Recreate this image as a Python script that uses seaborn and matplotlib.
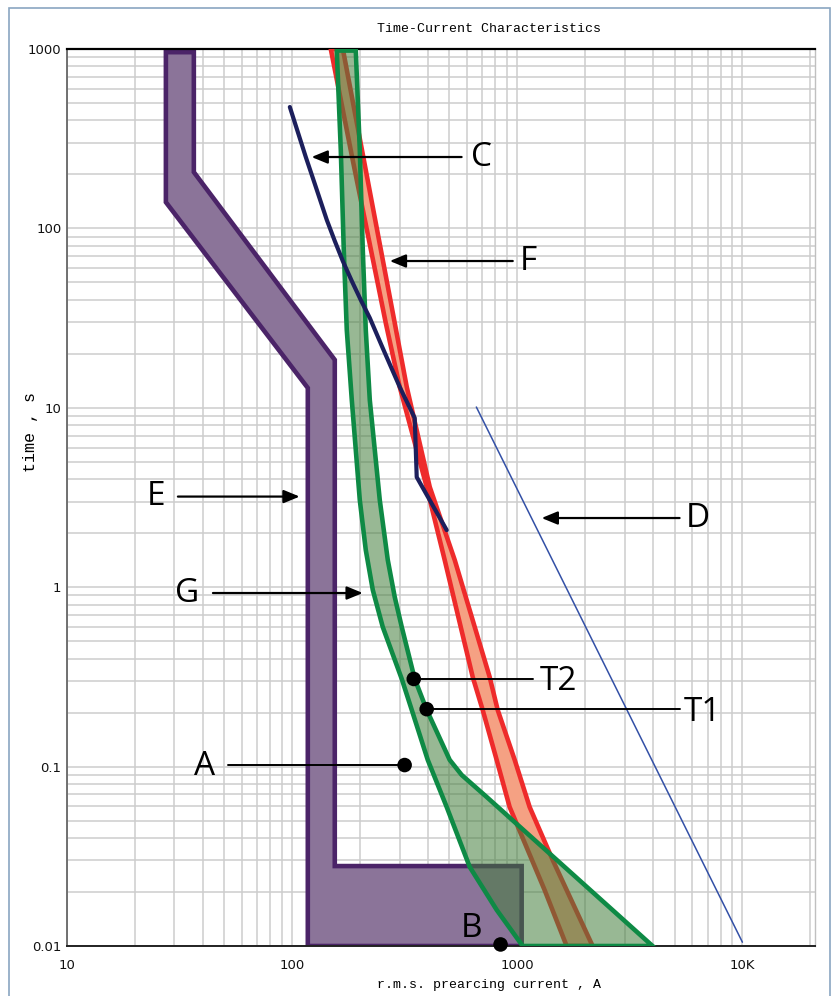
import matplotlib
matplotlib.use("Agg")
import matplotlib.pyplot as plt
import seaborn as sns
from matplotlib.patches import Rectangle
from matplotlib.ticker import LogLocator, NullFormatter, FixedLocator, FixedFormatter
from matplotlib.colors import to_rgba

# === data (current in A, time in s) ===
# E : purple band
e_current = [27.5, 36.6, 36.6, 154.7, 154.7, 1046, 1046, 117.4, 117.4, 27.5]
e_time = [960, 960, 206, 18.5, 0.0279, 0.0279, 0.01, 0.01, 12.9, 140]

# F : red band (left and right edge)
f_left_current = [148.5, 184, 260.6, 300.6, 396, 476, 634, 702, 810, 925, 1323, 1657]
f_left_time = [1000, 256, 29.7, 13.06, 3.62, 1.418, 0.316, 0.207, 0.109, 0.0595, 0.0205, 0.01]
f_right_current = [168, 285.6, 323, 408.6, 527.5, 754, 818.5, 974, 1135, 1436, 2161]
f_right_time = [1000, 29.7, 13.06, 3.62, 1.418, 0.316, 0.207, 0.109, 0.0595, 0.0302, 0.01]

# G : green band (left and right edge)
g_left_current = [157.9, 164.5, 169.6, 174.9, 184.1, 199.8, 212.4, 228.2, 252.7, 306.9,
                  339.9, 400.3, 486, 614.8, 810, 1057]
g_left_time = [980, 273.6, 75.8, 27.15, 11.05, 3.06, 1.612, 0.965, 0.600, 0.308,
               0.207, 0.109, 0.0595, 0.0276, 0.0159, 0.01]
g_right_current = [191.8, 199.8, 206, 212.4, 221.3, 245.1, 266, 285.6, 306.9, 350.4,
                   396.2, 501, 566.5, 731.5, 3990]
g_right_time = [980, 273.6, 75.8, 27.15, 11.05, 3.06, 1.418, 0.882, 0.600, 0.308,
                0.207, 0.109, 0.0898, 0.0677, 0.01]

# C : navy curve
c_current = [97.7, 106, 115, 123.6, 142.6, 154.7, 167.9, 184.1, 201.8, 221.3, 252.7,
             300.6, 350.4, 357.6, 486]
c_time = [475, 344.6, 250, 191, 111.4, 85.1, 65.8, 50.9, 39.9, 31.7, 21.5,
          13.06, 8.77, 4.11, 2.08]

# D : thin blue line
d_current = [658, 10000]
d_time = [10.1, 0.0105]

# marked points T2, T1, A, B
dot_names = ["T2", "T1", "A", "B"]
dot_current = [347, 396, 316, 843]
dot_time = [0.308, 0.209, 0.102, 0.0102]

x_ticks = [10, 100, 1000, 10000]
x_tick_labels = ["10", "100", "1000", "10K"]
y_ticks = [0.01, 0.1, 1, 10, 100, 1000]
y_tick_labels = ["0.01", "0.1", "1", "10", "100", "1000"]

# === figure ===
sns.set_style("white")
plt.rcParams["font.family"] = ["DejaVu Sans"]
plt.rcParams["text.color"] = "black"
plt.rcParams["xtick.color"] = "black"
plt.rcParams["ytick.color"] = "black"

fig = plt.figure(figsize=(8.35, 9.96), dpi=100)
ax = fig.add_axes([0.0802, 0.0502, 0.8958, 0.9006])
ax.set_xscale("log")
ax.set_yscale("log")
ax.set_xlim(10, 21000)
ax.set_ylim(0.01, 1000)

# grid on every decade sub-division
ax.xaxis.set_minor_locator(LogLocator(base=10, subs=range(2, 10), numticks=100))
ax.yaxis.set_minor_locator(LogLocator(base=10, subs=range(2, 10), numticks=100))
ax.xaxis.set_minor_formatter(NullFormatter())
ax.yaxis.set_minor_formatter(NullFormatter())
ax.xaxis.set_major_locator(FixedLocator(x_ticks))
ax.xaxis.set_major_formatter(FixedFormatter(x_tick_labels))
ax.yaxis.set_major_locator(FixedLocator(y_ticks))
ax.yaxis.set_major_formatter(FixedFormatter(y_tick_labels))
ax.grid(which="both", color="#cdcdcd", lw=1.1)
ax.set_axisbelow(True)
ax.tick_params(which="both", length=0)
ax.tick_params(axis="x", pad=9, labelsize=9.5, labelcolor="#111111")
ax.tick_params(axis="y", pad=4, labelsize=9.5, labelcolor="#111111")

ax.spines["top"].set_color("black")
ax.spines["top"].set_linewidth(1.6)
ax.spines["bottom"].set_color("#222222")
ax.spines["bottom"].set_linewidth(1.4)
ax.spines["left"].set_color("#666666")
ax.spines["left"].set_linewidth(1.3)
ax.spines["right"].set_color("#c0c0c0")
ax.spines["right"].set_linewidth(1.0)

# E band
ax.fill(e_current, e_time, facecolor="#8b7499", edgecolor="#4b2468", lw=3.3, zorder=2)

# F band
f_x = f_left_current + f_right_current[::-1]
f_y = f_left_time + f_right_time[::-1]
ax.fill(f_x, f_y, facecolor="#f5a183", edgecolor="#ee2b2b", lw=3.3, zorder=3)

# G band (semi transparent fill)
g_x = g_left_current + g_right_current[::-1]
g_y = g_left_time + g_right_time[::-1]
ax.fill(g_x, g_y, facecolor=to_rgba("#447e3c", 0.55), edgecolor="#0e8a45", lw=3.3, zorder=4)

# C and D curves
sns.lineplot(x=c_current, y=c_time, sort=False, estimator=None, color="#1c1f5c",
             lw=3.0, ax=ax, zorder=5, legend=False)
sns.lineplot(x=d_current, y=d_time, sort=False, estimator=None, color="#3350a6",
             lw=1.1, ax=ax, zorder=5, legend=False)

# points
sns.scatterplot(x=dot_current, y=dot_time, color="black", s=110, edgecolor="none",
                ax=ax, zorder=8, clip_on=False, legend=False)

# === annotations ===
lab_font = dict(fontsize=24, family=["Open Sans", "DejaVu Sans"], color="black",
                va="center", zorder=9)
arrow = dict(arrowstyle="-|>,head_length=0.8,head_width=0.33", color="black", lw=1.6,
             shrinkA=0, shrinkB=0, mutation_scale=12)

# arrows: label, head x, tail x, y, label x, alignment
arrow_labels = ["C", "F", "E", "D", "G"]
arrow_head = [122, 271.5, 108, 1283, 206]
arrow_tail = [566, 955, 31.1, 5259, 44.5]
arrow_y = [250, 65.8, 3.2, 2.43, 0.928]
arrow_text_x = [620, 1025, 24.8, 6320, 34.1]
arrow_ha = ["left", "left", "center", "center", "center"]

for lab, hx, tx, y, lx, ha in zip(arrow_labels, arrow_head, arrow_tail, arrow_y,
                                  arrow_text_x, arrow_ha):
    ax.annotate("", xy=(hx, y), xytext=(tx, y), arrowprops=arrow, zorder=9)
    ax.text(lx, y, lab, ha=ha, **lab_font)

# leader lines to points
ax.plot([347, 1170], [0.308, 0.308], color="black", lw=1.4, zorder=7)
ax.text(1257, 0.300, "T2", ha="left", **lab_font)
ax.plot([396, 5259], [0.209, 0.209], color="black", lw=1.4, zorder=7)
ax.text(5480, 0.200, "T1", ha="left", **lab_font)
ax.plot([51.9, 316], [0.102, 0.102], color="black", lw=1.4, zorder=7)
ax.text(41.0, 0.0995, "A", ha="center", **lab_font)
ax.text(624, 0.0125, "B", ha="center", **lab_font)

# titles in monospace
mono = ["Liberation Mono", "DejaVu Sans Mono"]
fig.text(0.5856, 0.9709, "Time-Current Characteristics", family=mono, fontsize=9.5,
         ha="center", va="center")
fig.text(0.5856, 0.011, "r.m.s. prearcing current , A", family=mono, fontsize=9.5,
         ha="center", va="center")
fig.text(0.036, 0.5663, "time , s", family=mono, fontsize=12, rotation=90,
         ha="center", va="center")

# light frame around the picture
fig.add_artist(Rectangle((0.0108, -0.02), 0.983, 1.012, transform=fig.transFigure,
                         fill=False, edgecolor="#8aa6c1", lw=1.2))

fig.savefig("out.png", dpi=100)
